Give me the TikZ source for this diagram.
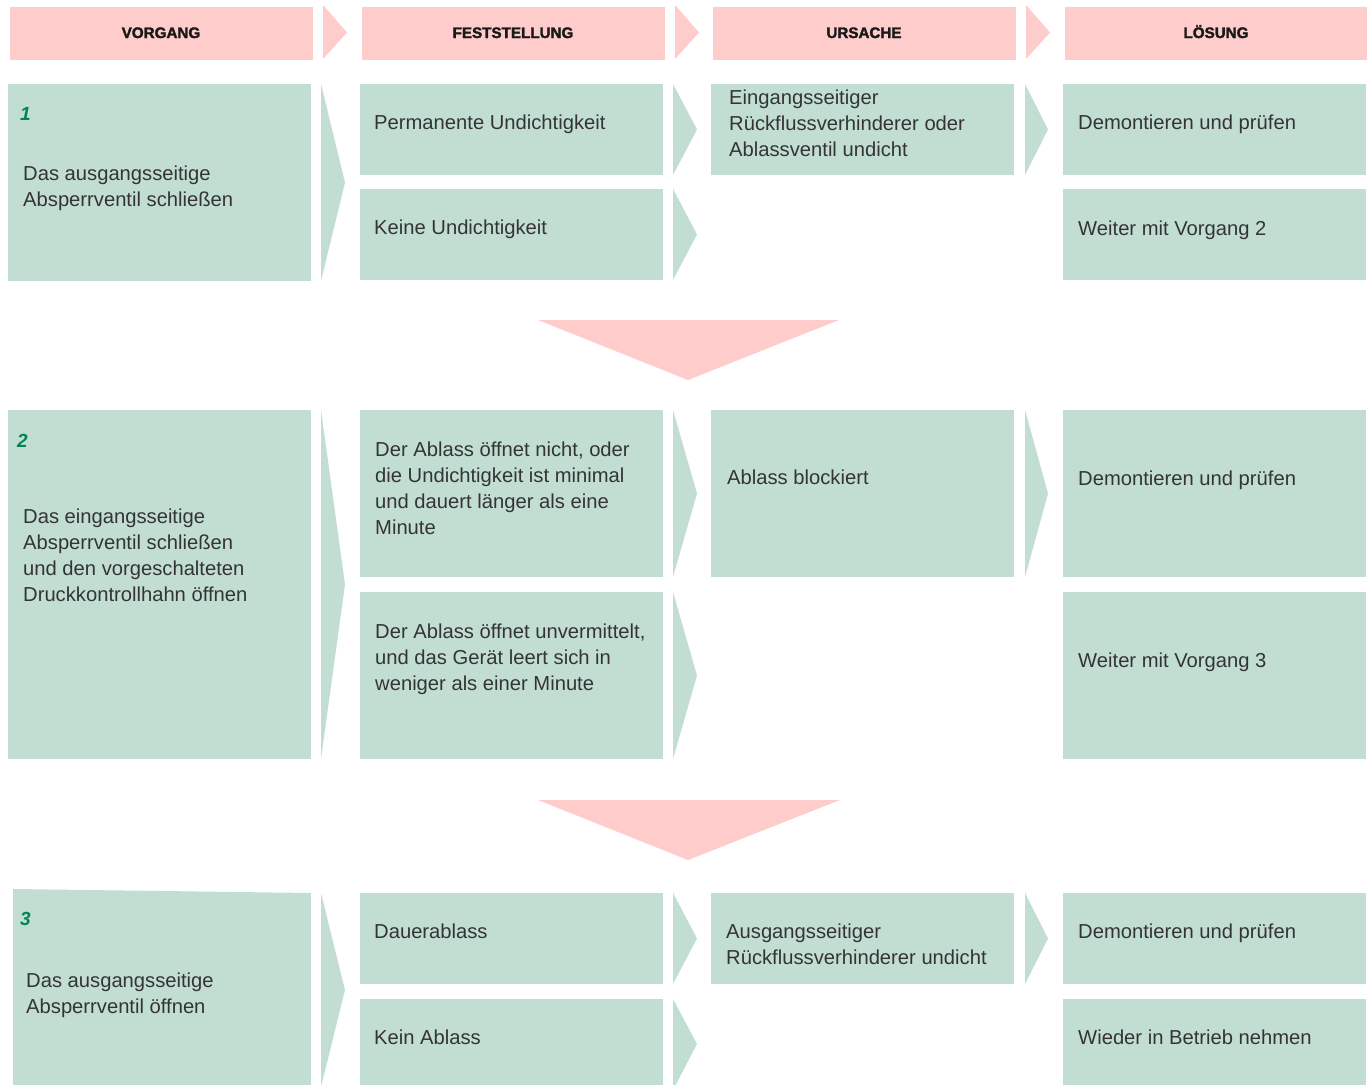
\documentclass[tikz,border=0pt]{standalone}
\usepackage{fontspec}
\setmainfont{Liberation Sans}
\newfontfamily\headfont[BoldFeatures={FakeBold=2}]{Liberation Sans}
\usetikzlibrary{calc}
\definecolor{boxgreen}{RGB}{194,222,211}
\definecolor{boxpink}{RGB}{255,204,204}
\definecolor{txtgray}{RGB}{52,52,52}
\definecolor{numgreen}{RGB}{0,135,80}
\newcommand{\mlines}[1]{\begin{tabular}[t]{@{}l@{}}#1\end{tabular}}
\begin{document}
\begin{tikzpicture}[x=1pt,y=-1pt,
  gbox/.style={fill=boxgreen,draw=none,inner sep=0pt,outer sep=0pt,anchor=north west},
  pbox/.style={fill=boxpink,draw=none,inner sep=0pt,outer sep=0pt,anchor=north west,minimum width=303pt,minimum height=53pt},
  wide/.style={minimum width=303pt},
  body/.style={anchor=base west,inner sep=0pt,text=txtgray,font=\fontsize{20.2}{26}\selectfont},
  head/.style={anchor=base,inner sep=0pt,text=black!90,font=\fontsize{15.2}{18}\selectfont\headfont\bfseries},
  num/.style={anchor=base west,inner sep=0pt,text=numgreen,font=\fontsize{19}{22}\selectfont\bfseries\itshape},
  garrow/.style={fill=boxgreen},
  parrow/.style={fill=boxpink}]
\path[use as bounding box,clip] (0,0) rectangle (1372,1084);

% header row
\node[pbox] (h1) at (10,7) {};
\node[pbox] (h2) at (362,7) {};
\node[pbox] (h3) at (713,7) {};
\node[pbox,minimum width=302pt] (h4) at (1065,7) {};
\node[head] (h1t) at (161,38) {VORGANG};
\node[head] (h2t) at (513,38) {FESTSTELLUNG};
\node[head] (h3t) at (864,38) {URSACHE};
\node[head] (h4t) at (1216,38) {LÖSUNG};
\foreach \b in {h1,h2,h3}{
  \fill[parrow] ($(\b.north east)+(10,-2)$) -- ($(\b.east)+(34,-1)$) -- ($(\b.south east)+(10,-1)$) -- cycle;
}

% row 1
\node[gbox,wide,minimum height=197pt] (v1) at (8,84) {};
\node[gbox,wide,minimum height=91pt] (f1a) at (360,84) {};
\node[gbox,wide,minimum height=91pt] (f1b) at (360,189) {};
\node[gbox,wide,minimum height=91pt] (u1) at (711,84) {};
\node[gbox,wide,minimum height=91pt] (l1a) at (1063,84) {};
\node[gbox,wide,minimum height=91pt] (l1b) at (1063,189) {};

% row 2
\node[gbox,wide,minimum height=349pt] (v2) at (8,410) {};
\node[gbox,wide,minimum height=167pt] (f2a) at (360,410) {};
\node[gbox,wide,minimum height=167pt] (f2b) at (360,592) {};
\node[gbox,wide,minimum height=167pt] (u2) at (711,410) {};
\node[gbox,wide,minimum height=167pt] (l2a) at (1063,410) {};
\node[gbox,wide,minimum height=167pt] (l2b) at (1063,592) {};

% row 3
\node[gbox,minimum width=298pt,minimum height=200pt] (v3) at (13,893) {};
\fill[boxgreen] (v3.north west) -- ++(0,-4) -- (v3.north east) -- cycle;
\node[gbox,wide,minimum height=91pt] (f3a) at (360,893) {};
\node[gbox,wide,minimum height=100pt] (f3b) at (360,999) {};
\node[gbox,wide,minimum height=91pt] (u3) at (711,893) {};
\node[gbox,wide,minimum height=91pt] (l3a) at (1063,893) {};
\node[gbox,wide,minimum height=100pt] (l3b) at (1063,999) {};

% green chevrons
\foreach \b in {v1,v2}{
  \fill[garrow] ($(\b.north east)+(10,0)$) -- ($(\b.east)+(34,0)$) -- ($(\b.south east)+(10,0)$) -- cycle;
}
\fill[garrow] ($(v3.north east)+(10,0)$) -- ($(v3.north east)+(34,97)$) -- ($(v3.north east)+(10,194)$) -- cycle;
\foreach \b in {f1a,f1b,f2a,f2b,f3a}{
  \fill[garrow] ($(\b.north east)+(10,0)$) -- ($(\b.east)+(34,0)$) -- ($(\b.south east)+(10,0)$) -- cycle;
}
\fill[garrow] ($(f3b.north east)+(10,0)$) -- ($(f3b.north east)+(34,45)$) -- ($(f3b.north east)+(10,91)$) -- cycle;
\foreach \b in {u1,u2,u3}{
  \fill[garrow] ($(\b.north east)+(11,0)$) -- ($(\b.east)+(34,0)$) -- ($(\b.south east)+(11,0)$) -- cycle;
}

% pink down arrows
\coordinate (d1l) at (538,320);
\coordinate (d1r) at (839,320);
\coordinate (d1t) at (688,380);
\fill[parrow] (d1l) -- (d1r) -- (d1t) -- cycle;
\coordinate (d2l) at (538,800);
\coordinate (d2r) at (840,800);
\coordinate (d2t) at (688,860);
\fill[parrow] (d2l) -- (d2r) -- (d2t) -- cycle;

% texts row 1
\node[num] (n1) at (20,120) {1};
\node[body] (v1t) at (23,180) {\mlines{Das ausgangsseitige\\Absperrventil schließen}};
\node[body] (f1at) at (374,129) {Permanente Undichtigkeit};
\node[body] (f1bt) at (374,234) {Keine Undichtigkeit};
\node[body] (u1t) at (729,104) {\mlines{Eingangsseitiger\\Rückflussverhinderer oder\\Ablassventil undicht}};
\node[body] (l1at) at (1078,129) {Demontieren und prüfen};
\node[body] (l1bt) at (1078,235) {Weiter mit Vorgang 2};

% texts row 2
\node[num] (n2) at (17,447) {2};
\node[body] (v2t) at (23,523) {\mlines{Das eingangsseitige\\Absperrventil schließen\\und den vorgeschalteten\\Druckkontrollhahn öffnen}};
\node[body] (f2at) at (375,456) {\mlines{Der Ablass öffnet nicht, oder\\die Undichtigkeit ist minimal\\und dauert länger als eine\\Minute}};
\node[body] (f2bt) at (375,638) {\mlines{Der Ablass öffnet unvermittelt,\\und das Gerät leert sich in\\weniger als einer Minute}};
\node[body] (u2t) at (727,484) {Ablass blockiert};
\node[body] (l2at) at (1078,485) {Demontieren und prüfen};
\node[body] (l2bt) at (1078,667) {Weiter mit Vorgang 3};

% texts row 3
\node[num] (n3) at (20,925) {3};
\node[body] (v3t) at (26,987) {\mlines{Das ausgangsseitige\\Absperrventil öffnen}};
\node[body] (f3at) at (374,938) {Dauerablass};
\node[body] (f3bt) at (374,1044) {Kein Ablass};
\node[body] (u3t) at (726,938) {\mlines{Ausgangsseitiger\\Rückflussverhinderer undicht}};
\node[body] (l3at) at (1078,938) {Demontieren und prüfen};
\node[body] (l3bt) at (1078,1044) {Wieder in Betrieb nehmen};
\end{tikzpicture}
\end{document}
